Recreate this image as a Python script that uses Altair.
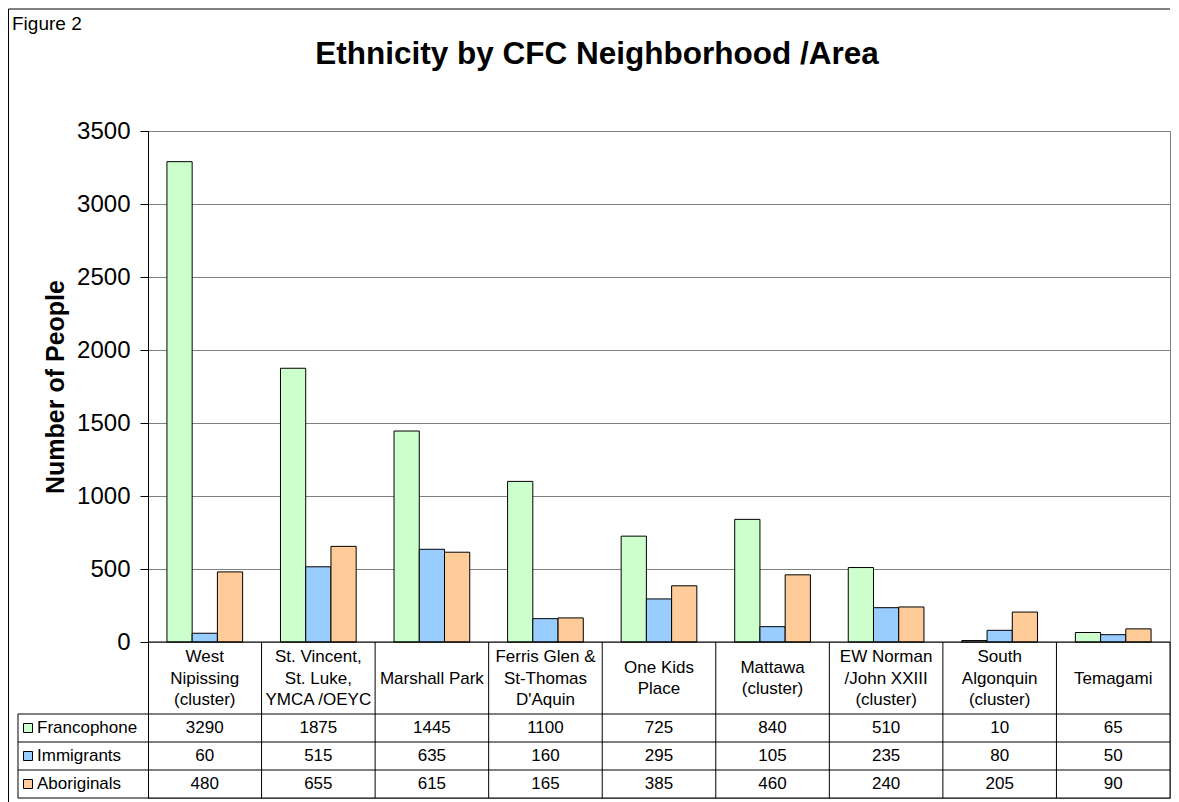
import altair as alt
import pandas as pd

# ---------------- data ----------------
category_lines = [
    "West\nNipissing\n(cluster)",
    "St. Vincent,\nSt. Luke,\nYMCA /OEYC",
    "Marshall Park",
    "Ferris Glen &\nSt-Thomas\nD'Aquin",
    "One Kids\nPlace",
    "Mattawa\n(cluster)",
    "EW Norman\n/John XXIII\n(cluster)",
    "South\nAlgonquin\n(cluster)",
    "Temagami",
]
series = ["Francophone", "Immigrants", "Aboriginals"]
francophone = [3290, 1875, 1445, 1100, 725, 840, 510, 10, 65]
immigrants = [60, 515, 635, 160, 295, 105, 235, 80, 50]
aboriginals = [480, 655, 615, 165, 385, 460, 240, 205, 90]
series_colors = ["#CCFFCC", "#99CCFF", "#FFCC99"]
y_ticks = [0, 500, 1000, 1500, 2000, 2500, 3000, 3500]
title_text = "Ethnicity by CFC Neighborhood /Area"
figure_label = "Figure 2"
y_title = "Number of People"

# ---------------- geometry (pixels) ----------------
FONT = "Liberation Sans"
N = len(category_lines)
PLOT_W = 1022          # width of the category area
VALUE_PX = 511         # height of the 0..3500 area
HEAD_ROW_PX = 72       # category-name row of the data table
ROW_PX = 28            # each series row of the data table
HDR_COL_PX = 130       # legend column of the data table
LINE_PX = 21.5         # line spacing of the category names
Y_MAX = 3500
TABLE_PX = HEAD_ROW_PX + 3 * ROW_PX
PLOT_H = VALUE_PX + TABLE_PX
FRAME_DX = -139.5      # outer frame, relative to plot origin
FRAME_DY = -122
FRAME_BOTTOM = PLOT_H + 5

uy = Y_MAX / VALUE_PX       # data units per pixel (y)
ux = N / PLOT_W             # data units per pixel (x)
y_min = -TABLE_PX * uy
x_hdr = -HDR_COL_PX * ux


def ypx(p):  # pixels below the zero line -> data value
    return -p * uy


row_bounds = [ypx(HEAD_ROW_PX + k * ROW_PX) for k in range(4)]
row_centers = [ypx(HEAD_ROW_PX + k * ROW_PX + ROW_PX / 2) for k in range(3)]

xs = alt.Scale(domain=[0, N], nice=False, zero=False)
ys = alt.Scale(domain=[y_min, Y_MAX], nice=False, zero=False)

yaxis = alt.Axis(
    values=y_ticks, format="d", title=y_title, grid=True, gridColor="#808080", gridWidth=1,
    domainColor="black", domainWidth=1, tickColor="black", tickSize=8, labelPadding=10,
    labelFont=FONT, labelFontSize=24, labelColor="black",
    titleFont=FONT, titleFontSize=25, titleFontWeight="bold", titleColor="black",
    titleX=-93, titleY=VALUE_PX / 2, titleAngle=270, titleAlign="center", titleBaseline="middle",
)


def X(f):
    return alt.X(f, type="quantitative", scale=xs, axis=None)


def Y(f):
    return alt.Y(f, type="quantitative", scale=ys, axis=yaxis)


# ---------------- tables ----------------
values = [francophone, immigrants, aboriginals]
bar_rows = []
for i in range(N):
    for j, s in enumerate(series):
        x0 = i + 1 / 6 + j * 2 / 9
        bar_rows.append({"series": s, "x0": x0, "x1": x0 + 2 / 9, "value": values[j][i], "base": 0})
bar_df = pd.DataFrame(bar_rows)

cell_rows = []
for j, s in enumerate(series):
    for i in range(N):
        cell_rows.append({"x": i + 0.5, "y": row_centers[j], "label": str(values[j][i])})
cell_df = pd.DataFrame(cell_rows)

# first line of each category name, so that the block is centred in the row
cat_y = []
for lab in category_lines:
    n_lines = lab.count("\n") + 1
    cat_y.append(ypx(HEAD_ROW_PX / 2 + 0.5 - (n_lines - 1) * LINE_PX / 2))
cat_df = pd.DataFrame({"x": [i + 0.5 for i in range(N)], "y": cat_y, "label": category_lines})

hdr_df = pd.DataFrame({"series": series, "x": [x_hdr] * 3, "y": row_centers})

hrules = [{"x": 0, "x2": N, "y": 0}] + [{"x": x_hdr, "x2": N, "y": b} for b in row_bounds]
hrule_df = pd.DataFrame(hrules)
vrules = [{"x": float(i), "y": y_min, "y2": 0} for i in range(1, N + 1)]
vrules.append({"x": x_hdr, "y": y_min, "y2": row_bounds[0]})
vrule_df = pd.DataFrame(vrules)

color = alt.Color("series:N", scale=alt.Scale(domain=series, range=series_colors), legend=None)

bars = alt.Chart(bar_df).mark_rect(stroke="black", strokeWidth=1).encode(
    x=X("x0"), x2="x1", y=Y("value"), y2="base", color=color
)

h_lines = alt.Chart(hrule_df).mark_rule(color="black", strokeWidth=1).encode(
    x=X("x"), x2="x2", y=Y("y")
)
v_lines = alt.Chart(vrule_df).mark_rule(color="black", strokeWidth=1).encode(
    x=X("x"), y=Y("y"), y2="y2"
)

cells = alt.Chart(cell_df).mark_text(font=FONT, fontSize=17, color="black", baseline="middle").encode(
    x=X("x"), y=Y("y"), text="label:N"
)
cats = alt.Chart(cat_df).mark_text(
    font=FONT, fontSize=17, color="black", baseline="middle", lineBreak="\n", lineHeight=LINE_PX
).encode(x=X("x"), y=Y("y"), text="label:N")

hdr_sq = alt.Chart(hdr_df).mark_square(size=81, filled=True, stroke="black", strokeWidth=1, opacity=1, xOffset=10).encode(
    x=X("x"), y=Y("y"), color=color
)
hdr_txt = alt.Chart(hdr_df).mark_text(font=FONT, fontSize=17, color="black", align="left", baseline="middle", dx=19).encode(
    x=X("x"), y=Y("y"), text="series:N"
)

one = pd.DataFrame({"t": [0]})
main_title = alt.Chart(one).mark_text(
    text=title_text, font=FONT, fontSize=31.5, fontWeight="bold", color="black", align="center", baseline="alphabetic"
).encode(x=alt.value(449), y=alt.value(-67))
fig_label = alt.Chart(one).mark_text(
    text=figure_label, font=FONT, fontSize=19, color="black", align="left", baseline="top"
).encode(x=alt.value(-136), y=alt.value(-116))

frame_left = alt.Chart(one).mark_rule(color="black", strokeWidth=1).encode(
    x=alt.value(FRAME_DX), y=alt.value(FRAME_DY), y2=alt.value(FRAME_BOTTOM)
)
frame_top = alt.Chart(one).mark_rule(color="black", strokeWidth=1).encode(
    x=alt.value(FRAME_DX), x2=alt.value(PLOT_W), y=alt.value(FRAME_DY)
)

chart = alt.layer(
    bars, h_lines, v_lines, cells, cats, hdr_sq, hdr_txt, main_title, fig_label, frame_left, frame_top
).properties(
    width=PLOT_W, height=PLOT_H, padding=0, background="white"
).configure_view(stroke="#808080", strokeWidth=1)

chart.save("out.html", embed_options={"renderer": "svg", "actions": False})
